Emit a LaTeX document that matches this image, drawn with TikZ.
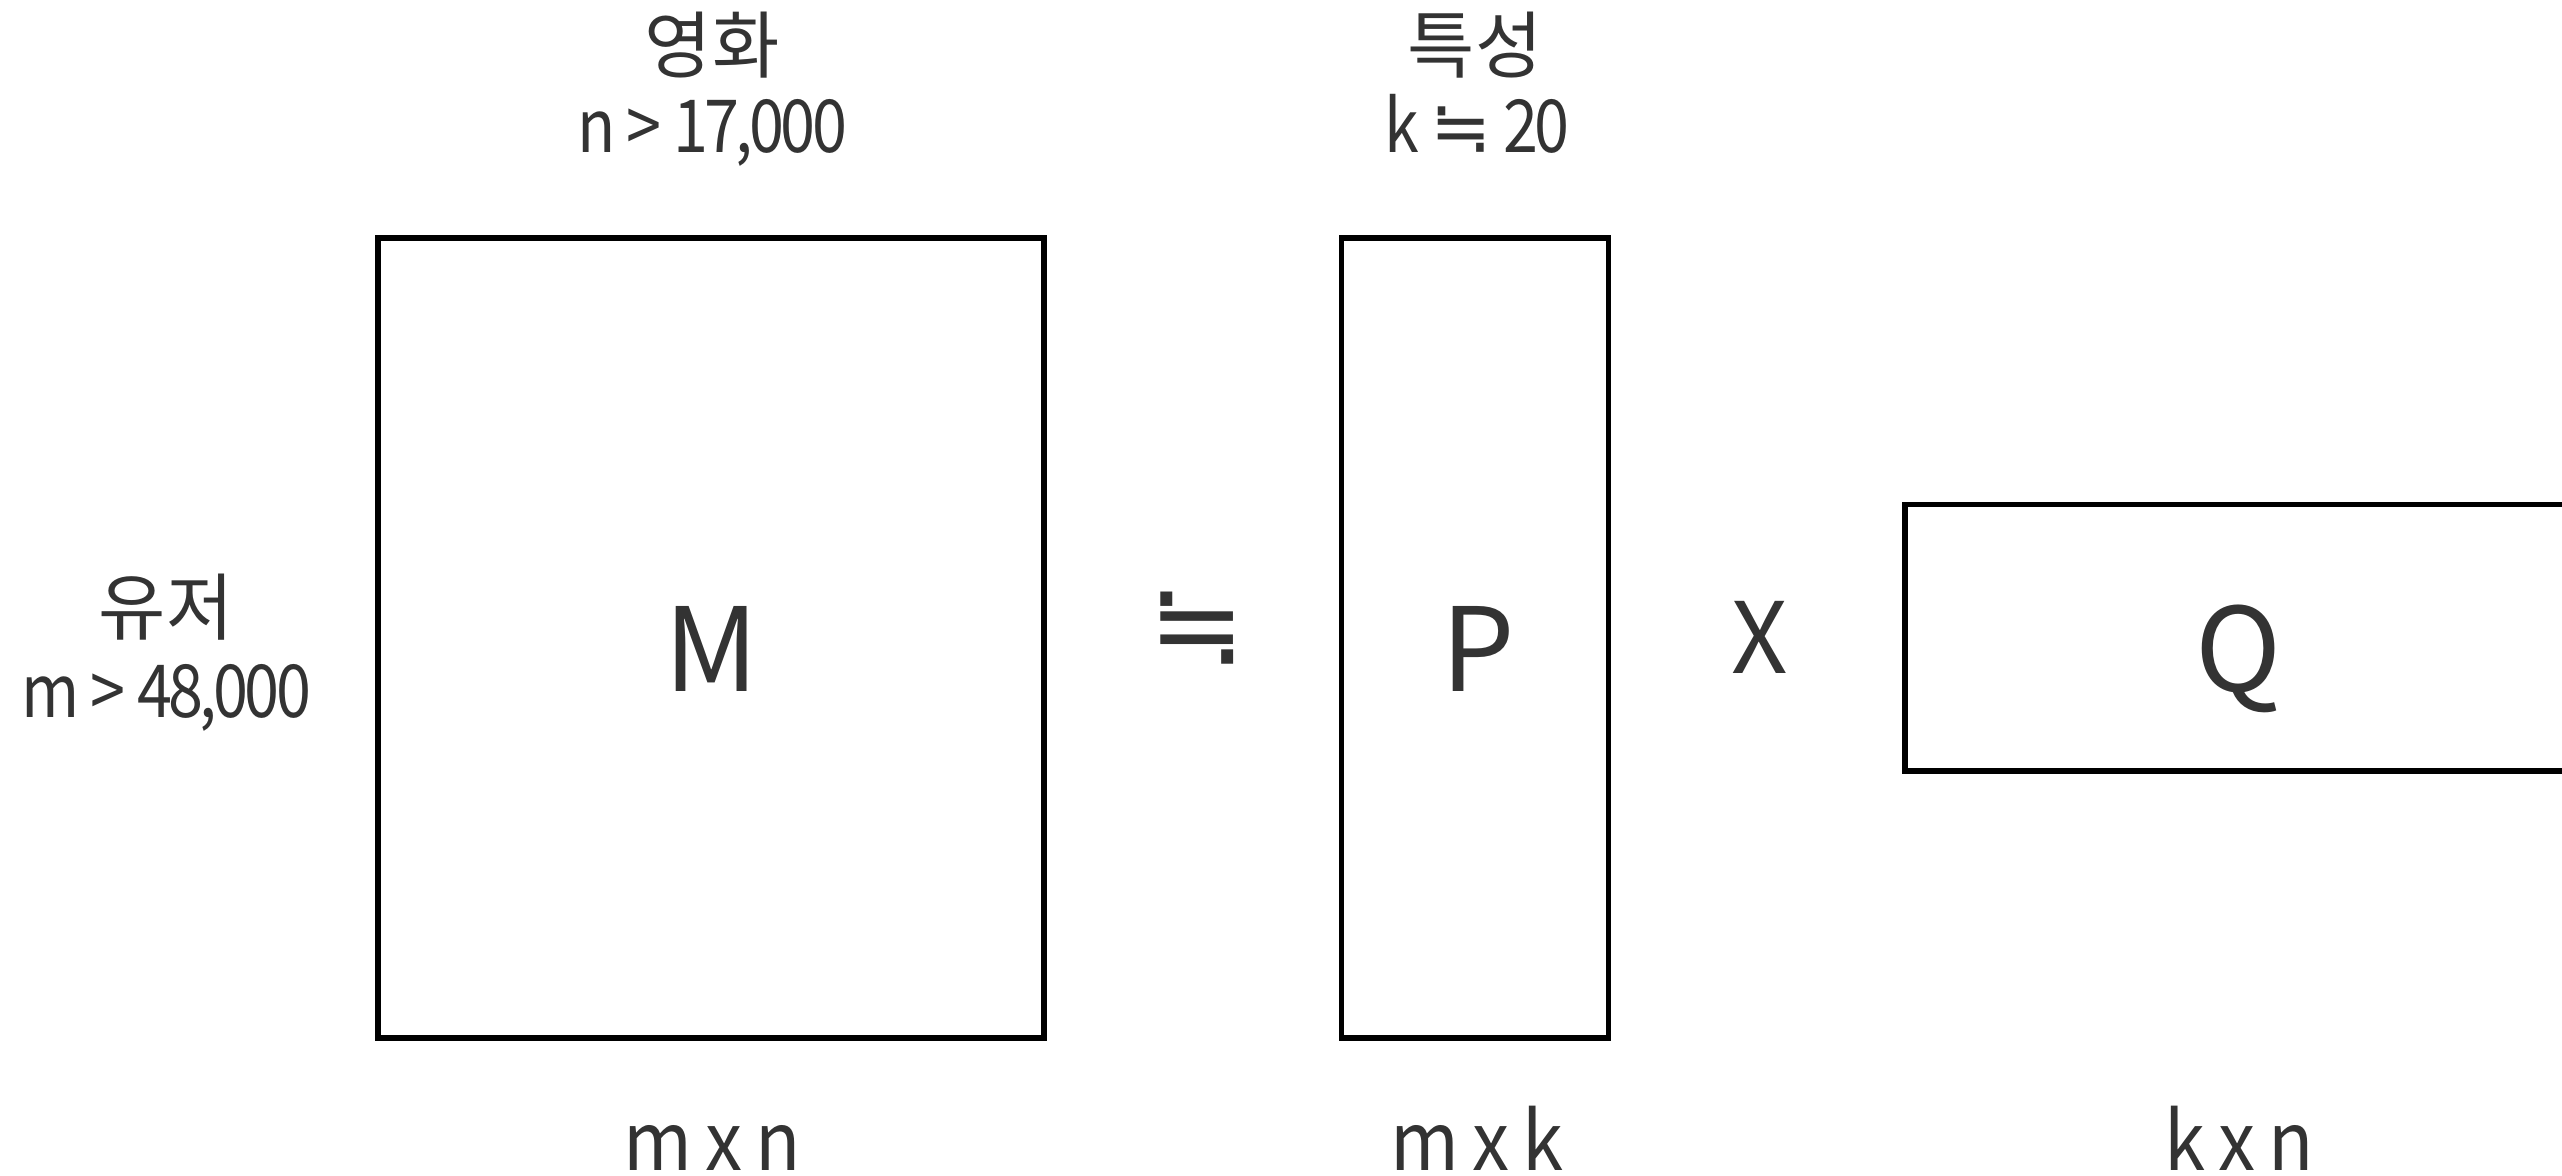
\documentclass[tikz,border=0pt]{standalone}
\usepackage{fontspec}
\setmainfont{Noto Sans CJK KR}
\newfontfamily\lat[FakeStretch=0.86,LetterSpace=-5,WordSpace=1.1]{Noto Sans CJK KR}
\newfontfamily\latd[FakeStretch=0.92,LetterSpace=-3,WordSpace=0.9]{Noto Sans CJK KR}
\newfontfamily\dejavu{DejaVu Sans}
\definecolor{txt}{HTML}{333333}
\begin{document}
\begin{tikzpicture}[x=0.01cm,y=-0.01cm,
  mat/.style={draw=black,line width=1.56pt,rectangle,inner sep=0pt},
  lab/.style={text=txt,inner sep=0pt,font=\fontsize{20.8}{24}\selectfont},
  num/.style={text=txt,inner sep=0pt,font=\fontsize{20.8}{24}\selectfont\lat,anchor=base},
  big/.style={text=txt,inner sep=0pt,font=\fontsize{33}{38}\selectfont,anchor=base},
  dim/.style={text=txt,inner sep=0pt,font=\fontsize{23}{28}\selectfont\latd,anchor=base}]
\useasboundingbox (0,0) rectangle (2562,1176);
\clip (0,0) rectangle (2562,1176);
% matrices
\node[mat,minimum width=6.66cm,minimum height=8.00cm] (Mbox) at (711,638) {};
\node[mat,minimum width=2.67cm,minimum height=8.00cm] (Pbox) at (1475,638) {};
\node[mat,minimum width=6.68cm,minimum height=2.665cm] (Qbox) at (2239,637.75) {};
% letters
\node[big] (Mlab) at (712,691) {M};
\node[big] (Plab) at (1478,691) {P};
\node[big] (Qlab) at (2239,691) {Q};
\node[text=txt,inner sep=0pt,font=\fontsize{33}{38}\selectfont\dejavu] (approx) at (1197,628) {≒};
\node[text=txt,inner sep=0pt,font=\fontsize{28}{32}\selectfont,anchor=base] (times) at (1760,673) {X};
% headings
\node[lab] (movie) at (712,45) {영화};
\node[num] (movien) at (712,153) {n > 17,000};
\node[lab] (feat) at (1475,45) {특성};
\node[num] (featk) at (1477,153) {k {\dejavu ≒} 20};
\node[lab] (user) at (166,607) {유저};
\node[num] (userm) at (166,717) {m > 48,000};
% dimensions
\node[dim] (dimM) at (712,1170) {m x n};
\node[dim] (dimP) at (1477,1170) {m x k};
\node[dim] (dimQ) at (2239,1170) {k x n};
\end{tikzpicture}
\end{document}
